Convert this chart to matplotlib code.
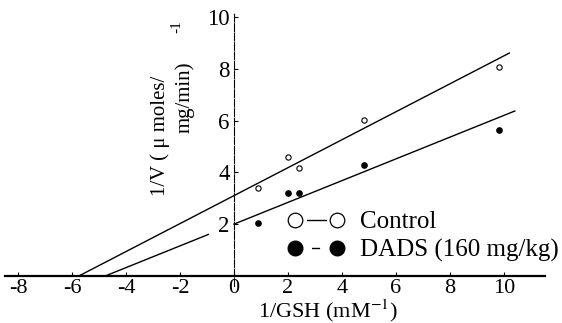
import matplotlib
matplotlib.use("Agg")
import matplotlib.pyplot as plt
from matplotlib.lines import Line2D
import numpy as np

plt.rcParams['font.family'] = ['Liberation Serif', 'DejaVu Serif']
plt.rcParams['mathtext.fontset'] = 'stix'

# 1/[GSH] (mM^-1) and 1/V
inv_gsh_ctrl = [0.9, 2.0, 2.4, 4.8, 9.8]
inv_v_ctrl = [3.38, 4.58, 4.15, 6.04, 8.08]
inv_gsh_dads = [0.9, 2.0, 2.4, 4.8, 9.8]
inv_v_dads = [2.04, 3.19, 3.19, 4.27, 5.62]

# fitted Lineweaver-Burk lines: (intercept, slope, x start, x end)
ctrl_fit = (3.1, 0.54, -5.74, 10.2)
dads_fit = (2.0, 0.42, -4.76, 10.4)
dads_gap = (-0.95, 0.0)   # line interrupted behind the "2" label

x_ticks = [-8, -6, -4, -2, 0, 2, 4, 6, 8, 10]
x_ticklabels = ['-8', '-6', '-4', '-2', '0', '2', '4', '6', '8', '10']
y_ticks = [2, 4, 6, 8, 10]
y_ticklabels = ['2', '4', '6', '8', '10']

W, H = 562, 323
fig = plt.figure(figsize=(W / 100, H / 100), dpi=100)
ax = fig.add_axes([5 / W, 23 / H, 540 / W, 290 / H])
ax.set_xlim(-8.48, 11.52)
ax.set_ylim(-0.93, 10.27)

for s in ['top', 'right']:
    ax.spines[s].set_visible(False)
ax.spines['bottom'].set_position(('data', 0))
ax.spines['bottom'].set_linewidth(1.6)
ax.spines['left'].set_position(('data', 0))
ax.spines['left'].set_linewidth(0.8)
ax.spines['left'].set_linestyle((0, (7, 1.5)))
ax.spines['left'].set_bounds(-0.4, 10.15)

ax.set_xticks(x_ticks)
ax.set_xticklabels(x_ticklabels)
ax.set_yticks(y_ticks)
ax.set_yticklabels(y_ticklabels)
ax.tick_params(axis='x', direction='in', length=3, width=0.8, pad=2, labelsize=16)
ax.tick_params(axis='y', direction='in', length=3, width=0.8, pad=3, labelsize=16.5)

# fitted lines
b, m, x0, x1 = ctrl_fit
xs = np.array([x0, x1])
ax.plot(xs, b + m * xs, color='k', lw=1.0)
b, m, x0, x1 = dads_fit
for seg in [(x0, dads_gap[0]), (dads_gap[1], x1)]:
    xs = np.array(seg)
    ax.plot(xs, b + m * xs, color='k', lw=1.0)

ax.plot(inv_gsh_ctrl, inv_v_ctrl, 'o', ms=3.8, mfc='white', mec='k', mew=0.8, ls='none')
ax.plot(inv_gsh_dads, inv_v_dads, 'o', ms=3.8, mfc='k', mec='k', ls='none')

# legend symbols "o - o": the handle line runs centre to centre, dash pattern
# leaves a gap next to each marker
h1 = Line2D([], [], marker='o', ms=10.5, mfc='white', mec='k', mew=0.9,
            color='k', lw=1.0, ls=(91.7, (14.4, 85.6)))
h2 = Line2D([], [], marker='o', ms=10.5, mfc='k', mec='k',
            color='k', lw=1.0, ls=(88.1, (5.8, 94.2)))
leg = ax.legend([h1, h2], ['Control', 'DADS (160 mg/kg)'], numpoints=2,
                handlelength=2.28, handletextpad=0.65, labelspacing=0.22,
                frameon=False, fontsize=18, loc='upper left',
                bbox_to_anchor=(287 / W, 1 - 211 / H), bbox_transform=fig.transFigure,
                borderaxespad=0, borderpad=0)

fig.text(328 / W, 1 - 311 / H, '1/GSH (mM$^{-1}$)', ha='center', va='center', fontsize=16)
fig.text(160 / W, 1 - 136 / H, '1/V ( μ moles/', rotation=90, ha='center', va='center', fontsize=15)
fig.text(185 / W, 1 - 97 / H, 'mg/min)', rotation=90, ha='center', va='center', fontsize=15)
fig.text(177 / W, 1 - 27 / H, '-1', rotation=90, ha='center', va='center', fontsize=11)

fig.savefig('out.png', dpi=100)
